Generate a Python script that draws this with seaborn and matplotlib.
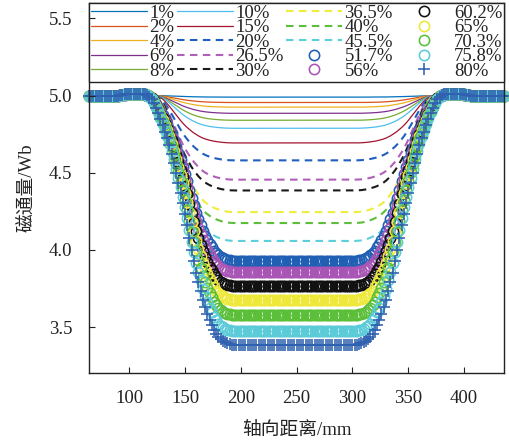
import numpy as np
import pandas as pd
import matplotlib
matplotlib.use("Agg")
import matplotlib.pyplot as plt
import seaborn as sns

# ---- data -------------------------------------------------------------
labels = ["1%", "2%", "4%", "6%", "8%", "10%", "15%",
          "20%", "26.5%", "30%", "36.5%", "40%", "45.5%",
          "51.7%", "56%", "60.2%", "65%", "70.3%", "75.8%", "80%"]

# flux level in the flat bottom of each curve (Wb)
plateau = [4.99, 4.955, 4.925, 4.885, 4.84, 4.788, 4.693,
           4.58, 4.455, 4.385, 4.245, 4.174, 4.058,
           3.93, 3.858, 3.768, 3.677, 3.578, 3.474, 3.385]

baseline = 5.0

colors = ["#0072BD", "#D95319", "#EDB120", "#7E2F8E", "#77AC30", "#4DBEEE", "#A2142F",
          "#1F5FBF", "#B060B8", "#1A1A1A", "#EEEE3A", "#5CBF3A", "#5CCFDB",
          "#1F5FB4", "#A855B5", "#111111", "#EEE83A", "#5CBF3A", "#5CCBD8", "#3060B0"]

kinds = ["solid"] * 7 + ["dashed"] * 6 + ["circle"] * 6 + ["plus"]

# axial sampling positions (mm)
position = np.arange(64, 437, 2)
centre = 248

# normalised depth of the left flank, sampled at flank_x (mm); the right
# flank is its mirror image about the centre
flank_x = np.arange(90, 197, 2)
flank_light = [0, 0, 0, 0, 0, 0, 0, 0, 0, 0, 0, 0, 0, 0, 0,
               0.002, 0.005, 0.01, 0.02, 0.04, 0.075, 0.12, 0.17, 0.225, 0.285,
               0.345, 0.405, 0.465, 0.525, 0.58, 0.63, 0.675, 0.715, 0.755, 0.79,
               0.82, 0.85, 0.875, 0.897, 0.915, 0.93, 0.943, 0.954, 0.963, 0.971,
               0.978, 0.984, 0.989, 0.993, 0.996, 0.998, 0.999, 1.0, 1.0]
flank_deep = [0, -0.002, -0.004, -0.006, -0.007, -0.007, -0.008, -0.008, -0.008,
              -0.008, -0.008, -0.007, -0.006, -0.003,
              0.004, 0.015, 0.03, 0.05, 0.07, 0.095, 0.12, 0.145, 0.17, 0.2,
              0.235, 0.27, 0.31, 0.35, 0.39, 0.43, 0.475, 0.52, 0.57, 0.62,
              0.665, 0.71, 0.75, 0.785, 0.82, 0.85, 0.875, 0.9, 0.92, 0.94,
              0.955, 0.968, 0.978, 0.984, 0.99, 0.994, 0.997, 1.0, 1.0, 1.0]


def shape_at(flank):
    table = dict(zip(flank_x.tolist(), flank))
    out = []
    for x in position:
        xl = centre - abs(int(x) - centre)
        if xl < flank_x[0]:
            out.append(0.0)
        elif xl > flank_x[-1]:
            out.append(1.0)
        else:
            out.append(table[xl])
    return np.array(out)


shape_light = shape_at(flank_light)
shape_deep = shape_at(flank_deep)

# ---- style ------------------------------------------------------------
sns.set_style("ticks")
serif_cjk = ["Liberation Serif", "Noto Sans CJK SC"]
plt.rcParams["font.family"] = serif_cjk
plt.rcParams["axes.unicode_minus"] = False
fs = 13.5
ink = "#222222"

fig = plt.figure(figsize=(5.1, 4.45), dpi=100)
ax = fig.add_axes([0.1745, 0.161, 0.8143, 0.8323])

handles = []
for lab, lvl, col, kind in zip(labels, plateau, colors, kinds):
    depth = baseline - lvl
    shape = shape_deep if kind in ("circle", "plus") else shape_light
    df = pd.DataFrame({"x": position, "flux": baseline - depth * shape})
    n_before = len(ax.lines)
    if kind == "solid":
        sns.lineplot(data=df, x="x", y="flux", ax=ax, color=col, linewidth=0.9,
                     errorbar=None, sort=False)
    elif kind == "dashed":
        sns.lineplot(data=df, x="x", y="flux", ax=ax, color=col, linewidth=1.5,
                     errorbar=None, sort=False)
    elif kind == "circle":
        sns.lineplot(data=df, x="x", y="flux", ax=ax, color=col, linestyle="none",
                     marker="o", markersize=7.4, errorbar=None, sort=False)
    else:
        sns.lineplot(data=df, x="x", y="flux", ax=ax, color=col, linestyle="none",
                     marker="+", markersize=9, errorbar=None, sort=False)
    line = ax.lines[n_before]
    if kind == "dashed":
        line.set_linestyle((0, (3.6, 2.6)))
    if kind == "circle":
        line.set_markerfacecolor("none")
        line.set_markeredgecolor(col)
        line.set_markeredgewidth(1.15)
    if kind == "plus":
        line.set_markeredgecolor(col)
        line.set_markeredgewidth(1.15)
    line.set_clip_on(False)
    line.set_label(lab)
    handles.append(line)

ax.set_xlim(64, 436)
ax.set_ylim(3.2, 5.6)
ax.set_xticks([100, 150, 200, 250, 300, 350, 400])
ax.set_yticks([3.5, 4.0, 4.5, 5.0, 5.5])
ax.set_yticklabels(["3.5", "4.0", "4.5", "5.0", "5.5"])

for s in ax.spines.values():
    s.set_visible(True)
    s.set_color(ink)
    s.set_linewidth(1.0)

ax.tick_params(axis="both", direction="in", length=4, width=0.8, colors=ink,
               labelsize=fs, labelcolor=ink)
ax.tick_params(axis="x", pad=12)
ax.tick_params(axis="y", pad=12)

ax.set_xlabel("轴向距离/mm", fontsize=fs, color=ink, labelpad=11,
              family=serif_cjk)
ax.set_ylabel("磁通量/Wb", fontsize=fs, color=ink, labelpad=10,
              family=serif_cjk)

leg = ax.legend(handles=handles, labels=labels, ncol=4, loc="upper left",
                bbox_to_anchor=(0, 0, 1, 1), mode="expand", borderaxespad=0,
                frameon=True, fancybox=False, edgecolor=ink, framealpha=1,
                handlelength=3.0, handletextpad=0.12, columnspacing=0.0,
                labelspacing=-0.14, borderpad=0.1, numpoints=1,
                prop={"family": serif_cjk, "size": fs})
leg.get_frame().set_linewidth(1.0)
for t in leg.get_texts():
    t.set_color(ink)

# keep the y ticks visible on top of the legend box
ax.yaxis.set_zorder(6)

fig.savefig("out.png", dpi=100)
